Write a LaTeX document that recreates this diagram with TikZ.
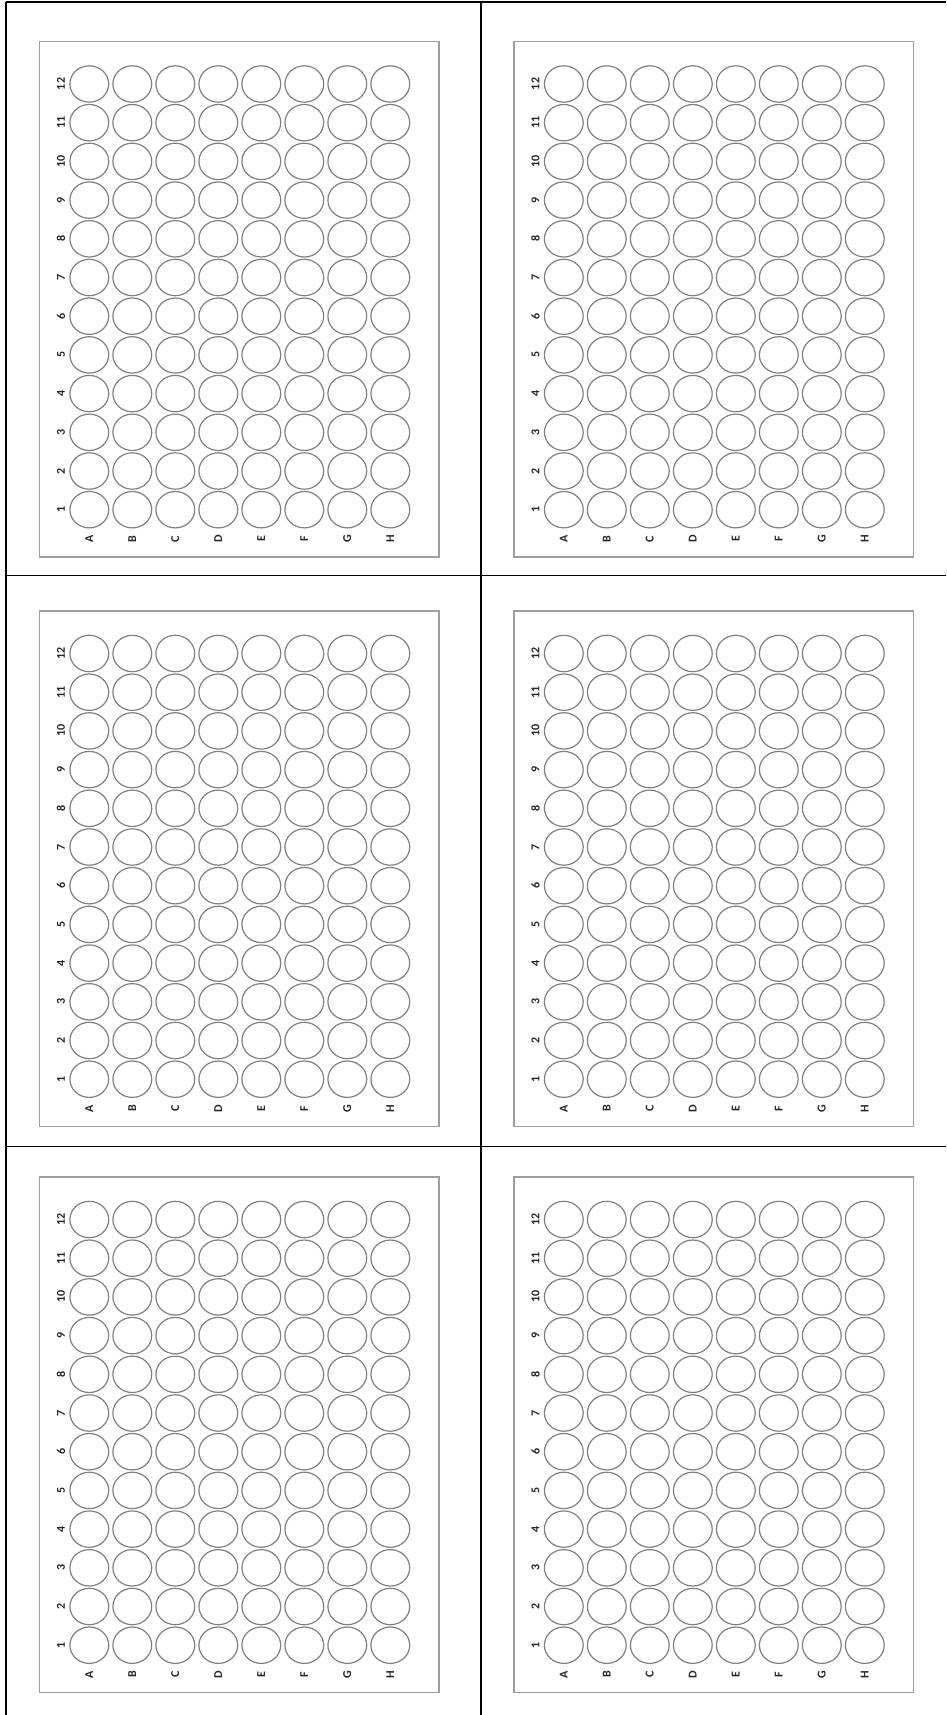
\documentclass[tikz,border=0pt]{standalone}
\usepackage{fontspec}
\setmainfont{Carlito}
\begin{document}
\begin{tikzpicture}[x=1pt,y=-1pt,
  gridline/.style={line width=1.7pt,black},
  platebox/.style={draw=black!38,line width=1.8pt},
  well/.style={draw=black!50,line width=1.2pt},
  lbl/.style={font=\bfseries\fontsize{12}{12}\selectfont,text=black!85,rotate=90,inner sep=0pt}]
\useasboundingbox (0,0) rectangle (946,1715);
\fill[white] (0,0) rectangle (946,1715);
% grid coordinates
\coordinate (tl) at (6,2);
\coordinate (tr) at (946,2);
\coordinate (bl) at (6,1715);
\coordinate (mt) at (481,2);
\coordinate (mb) at (481,1715);
\coordinate (h1l) at (6,575.5);
\coordinate (h1r) at (946,575.5);
\coordinate (h2l) at (6,1146.5);
\coordinate (h2r) at (946,1146.5);
\draw[gridline] (tl) -- (tr);
\draw[gridline] (tl) -- (bl);
\draw[gridline] (mt) -- (mb);
\draw[gridline] (h1l) -- (h1r);
\draw[gridline] (h2l) -- (h2r);
\newcommand{\wellplate}[3]{%
  \begin{scope}[shift={(#1,#2)}]
    \draw[platebox] (0,0) rectangle (399.5,515.5);
    \foreach \c [count=\i from 0] in {A,B,C,D,E,F,G,H} {
      \foreach \r in {1,...,12} {
        \draw[well] ({49.8+\i*43},{42.5+(12-\r)*38.7}) ellipse [x radius=19.4, y radius=18.2];
      }
      \node[lbl] (#3col\c) at ({49.8+\i*43},497.5) {\c};
    }
    \foreach \r in {1,...,12} {
      \node[lbl] (#3row\r) at (21.5,{42.5+(12-\r)*38.7}) {\r};
    }
  \end{scope}}
\wellplate{39.5}{41.5}{pa}
\wellplate{514}{41.5}{pb}
\wellplate{39.5}{611}{pc}
\wellplate{514}{611}{pd}
\wellplate{39.5}{1177}{pe}
\wellplate{514}{1177}{pf}
\end{tikzpicture}
\end{document}
